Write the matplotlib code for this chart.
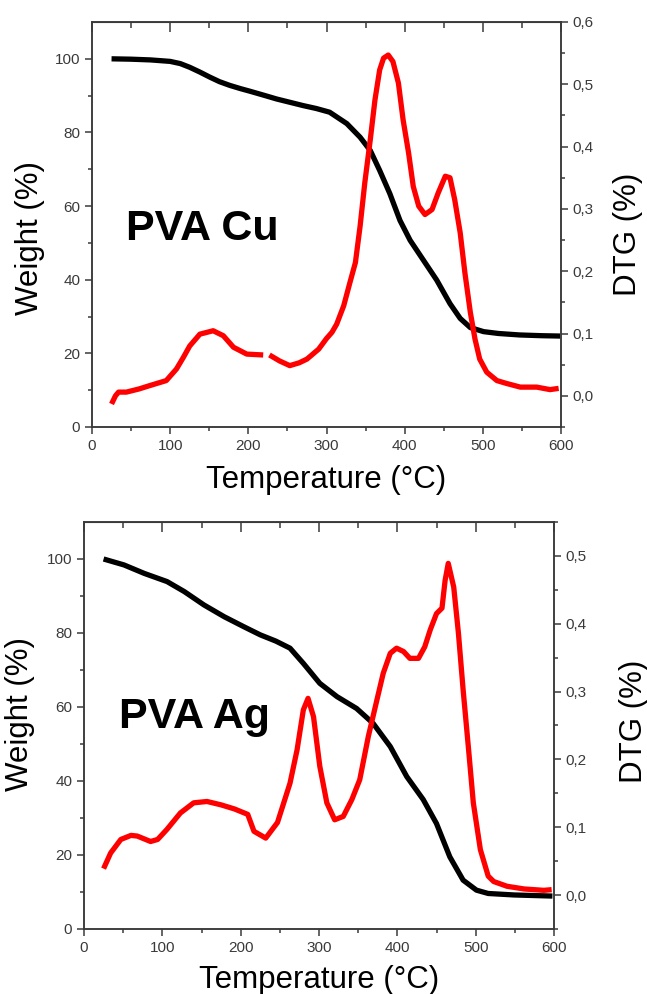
import numpy as np
import matplotlib
matplotlib.use("Agg")
import matplotlib.pyplot as plt
from matplotlib.ticker import MultipleLocator, FixedLocator, FuncFormatter

plt.rcParams['font.family'] = ['Liberation Sans', 'DejaVu Sans']

# === PVA Cu ===
cu_w_temp = [25, 50, 75, 100, 113, 125, 138, 151, 163, 176, 190, 202, 220, 236, 253,
             270, 287, 304, 326, 343, 356, 368, 381, 394, 407, 424, 441, 458, 471,
             484, 501, 520, 547, 575, 599]
cu_weight = [100, 99.9, 99.7, 99.3, 98.7, 97.7, 96.4, 95.0, 93.8, 92.8, 91.9, 91.2,
             90.1, 89.1, 88.2, 87.3, 86.5, 85.5, 82.4, 78.7, 75.1, 69.7, 63.4, 56.1,
             50.7, 45.3, 39.9, 33.5, 29.5, 27.0, 25.9, 25.4, 25.0, 24.8, 24.7]
cu_d_temp = [25, 30, 34, 44, 60, 74, 95, 108, 117, 125, 138, 155, 168, 181, 198, 219,
             223, 227, 240, 253, 265, 275, 290, 300, 307, 313, 322, 330, 337, 343,
             349, 356, 362, 368, 373, 379, 385, 392, 398, 405, 411, 418, 426, 435,
             443, 452, 458, 464, 471, 477, 484, 490, 496, 505, 518, 530, 548, 569,
             586, 597]
cu_dtg = [-0.013, 0.0, 0.006, 0.006, 0.011, 0.0165, 0.0245, 0.043, 0.062, 0.080,
          0.099, 0.1045, 0.0965, 0.078, 0.067, 0.0656, np.nan, 0.0656, 0.056, 0.0485,
          0.053, 0.059, 0.075, 0.092, 0.102, 0.115, 0.1445, 0.182, 0.214, 0.2725,
          0.342, 0.411, 0.475, 0.523, 0.542, 0.547, 0.5365, 0.502, 0.443, 0.39,
          0.336, 0.3045, 0.291, 0.299, 0.326, 0.3525, 0.35, 0.315, 0.262, 0.198,
          0.134, 0.091, 0.059, 0.038, 0.0245, 0.020, 0.014, 0.014, 0.010, 0.012]

# === PVA Ag ===
ag_w_temp = [25, 51, 77, 106, 128, 153, 179, 204, 225, 245, 263, 280, 301, 323, 348,
             369, 391, 412, 433, 450, 467, 484, 501, 516, 549, 598]
ag_weight = [100, 98.4, 96.1, 93.9, 91.2, 87.6, 84.4, 81.7, 79.5, 77.8, 75.9, 71.8,
             66.4, 62.8, 59.6, 55.6, 49.3, 41.2, 35.0, 28.5, 19.5, 13.2, 10.5, 9.6,
             9.2, 8.9]
ag_d_temp = [25, 34, 47, 60, 68, 85, 94, 106, 123, 140, 157, 175, 192, 209, 217, 232,
             247, 255, 263, 272, 280, 286, 293, 301, 310, 320, 331, 342, 352, 363,
             374, 382, 391, 399, 408, 416, 427, 435, 442, 450, 457, 461, 465, 472,
             478, 484, 491, 497, 506, 516, 523, 540, 562, 587, 597]
ag_dtg = [0.039, 0.062, 0.082, 0.088, 0.087, 0.079, 0.082, 0.097, 0.121, 0.136, 0.138,
          0.133, 0.127, 0.119, 0.094, 0.084, 0.107, 0.136, 0.165, 0.214, 0.273, 0.290,
          0.263, 0.190, 0.136, 0.111, 0.116, 0.141, 0.170, 0.234, 0.288, 0.327,
          0.3565, 0.364, 0.359, 0.349, 0.349, 0.366, 0.391, 0.415, 0.423, 0.464,
          0.489, 0.454, 0.386, 0.3025, 0.214, 0.136, 0.067, 0.028, 0.020, 0.013,
          0.009, 0.007, 0.008]

GRAY = '#3a3a3a'
LW = 3.8


def dtg_fmt(v, pos):
    return f"{v:.1f}".replace('.', ',')


def make_panel(fig, rect, wt, w, dt, d, dtg_lim, dtg_max_tick, label, label_xy,
               wlab_xy, dlab_xy, xlab_y):
    ax = fig.add_axes(rect)
    ax.plot(wt, w, color='black', lw=LW, solid_capstyle='butt', solid_joinstyle='round')
    ax.set_xlim(0, 600)
    ax.set_ylim(0, 110)
    ax.xaxis.set_major_locator(MultipleLocator(100))
    ax.xaxis.set_minor_locator(MultipleLocator(50))
    ax.yaxis.set_major_locator(FixedLocator([0, 20, 40, 60, 80, 100]))
    ax.yaxis.set_minor_locator(FixedLocator([10, 30, 50, 70, 90]))
    ax.tick_params(axis='both', which='both', colors=GRAY, labelsize=11, width=1.1)
    ax.tick_params(axis='both', which='major', length=5)
    ax.tick_params(axis='both', which='minor', length=3)
    ax.tick_params(axis='x', which='both', top=False, direction='out')
    for sp in ax.spines.values():
        sp.set_color(GRAY)
        sp.set_linewidth(1.1)

    ax2 = ax.twinx()
    ax2.plot(dt, d, color='#ff0000', lw=LW, solid_capstyle='butt', solid_joinstyle='round')
    ax2.set_ylim(*dtg_lim)
    ax2.yaxis.set_major_locator(FixedLocator(np.round(np.arange(0, dtg_max_tick + 0.01, 0.1), 2)))
    ax2.yaxis.set_minor_locator(MultipleLocator(0.05))
    ax2.yaxis.set_major_formatter(FuncFormatter(dtg_fmt))
    ax2.tick_params(axis='y', which='both', colors=GRAY, labelsize=11, width=1.1)
    ax2.tick_params(axis='y', which='major', length=5)
    ax2.tick_params(axis='y', which='minor', length=3)
    for sp in ax2.spines.values():
        sp.set_color(GRAY)
        sp.set_linewidth(1.1)

    # top ticks point inward
    secx = ax.secondary_xaxis('top')
    secx.xaxis.set_major_locator(MultipleLocator(100))
    secx.xaxis.set_minor_locator(MultipleLocator(50))
    secx.tick_params(which='both', direction='in', labeltop=False, colors=GRAY, width=1.1)
    secx.tick_params(which='major', length=7)
    secx.tick_params(which='minor', length=4)
    secx.spines['top'].set_color(GRAY)

    ax.set_xlabel('Temperature (°C)', fontsize=22.5, color='black')
    ax.xaxis.set_label_coords(0.5, xlab_y)
    ax.xaxis.label.set_va('center')
    ax.set_ylabel('Weight (%)', fontsize=22.5, color='black', va='center')
    ax.yaxis.set_label_coords(*wlab_xy)
    ax2.set_ylabel('DTG (%)', fontsize=22.5, color='black', rotation=90, va='center')
    ax2.yaxis.set_label_coords(*dlab_xy)

    ax.text(label_xy[0], label_xy[1], label, fontsize=31, fontweight='bold',
            ha='left', va='baseline', transform=ax.transData)
    return ax


W, H = 647, 994
fig = plt.figure(figsize=(W / 100, H / 100), dpi=100)

make_panel(fig, [92 / W, 1 - 427 / H, 469 / W, 405 / H],
           cu_w_temp, cu_weight, cu_d_temp, cu_dtg, (-0.05, 0.6), 0.6,
           'PVA Cu', (44, 50.7), (-0.132, 0.467), (1.143, 0.477), -0.131)

make_panel(fig, [84 / W, 1 - 929 / H, 470 / W, 407 / H],
           ag_w_temp, ag_weight, ag_d_temp, ag_dtg, (-0.05, 0.55), 0.5,
           'PVA Ag', (45, 54.3), (-0.136, 0.528), (1.170, 0.511), -0.125)

fig.savefig('out.png', dpi=100)
